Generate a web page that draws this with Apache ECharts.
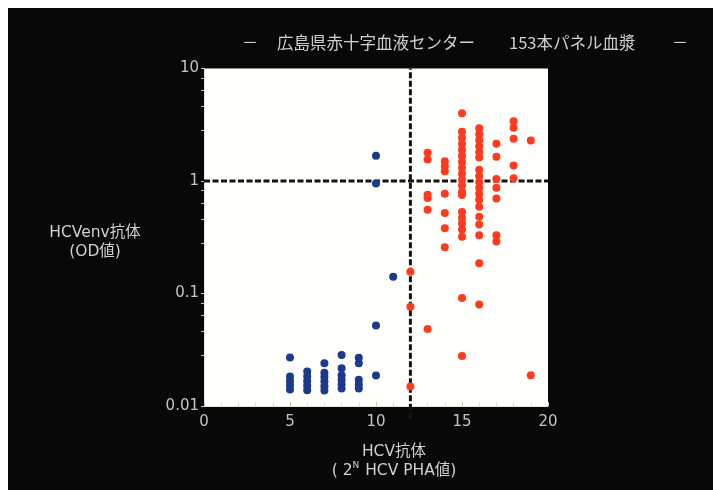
<!DOCTYPE html>
<html>
<head>
<meta charset="utf-8">
<script src="https://cdn.jsdelivr.net/npm/echarts@6/dist/echarts.min.js"></script>
<style>
  html, body { margin: 0; padding: 0; background: #ffffff; }
  #chart { position: absolute; left: 8px; top: 8px; width: 705px; height: 482px; }
</style>
</head>
<body>
<div id="chart"></div>
<script>
// HCV PHA titre (2^N) vs HCVenv antibody OD, 153 panel plasma samples
const titleText = '広島県赤十字血液センター';
const titleSub = '153本パネル血漿';
const yAxisTitle = 'HCVenv抗体\n(OD値)';

// PHA-negative group: [PHA titre, OD]
const bluePoints = [
  [5, 0.0270], [5, 0.0183], [5, 0.0167], [5, 0.0153], [5, 0.0140],
  [6, 0.0203], [6, 0.0184], [6, 0.0167], [6, 0.0152], [6, 0.0138],
  [7, 0.0240], [7, 0.0198], [7, 0.0181], [7, 0.0165], [7, 0.0150], [7, 0.0137],
  [8, 0.0284], [8, 0.0216], [8, 0.0188], [8, 0.0171], [8, 0.0156], [8, 0.0143],
  [9, 0.0268], [9, 0.0240], [9, 0.0171], [9, 0.0156], [9, 0.0143],
  [10, 0.0187], [10, 0.052], [10, 0.95], [10, 1.68],
  [11, 0.141]
];

// PHA-positive group: [PHA titre, OD]
const redPoints = [
  [12, 0.156], [12, 0.0764], [12, 0.0149],
  [13, 1.78], [13, 1.55], [13, 0.755], [13, 0.706], [13, 0.555], [13, 0.0484],
  [14, 1.50], [14, 1.35], [14, 1.22], [14, 0.77], [14, 0.519], [14, 0.381], [14, 0.258],
  [15, 4.0], [15, 2.74], [15, 2.42], [15, 2.14], [15, 1.89], [15, 1.67], [15, 1.48],
  [15, 1.31], [15, 1.16], [15, 1.02], [15, 0.91], [15, 0.80], [15, 0.75],
  [15, 0.53], [15, 0.47], [15, 0.42], [15, 0.37], [15, 0.32], [15, 0.091], [15, 0.0278],
  [16, 2.94], [16, 2.60], [16, 2.30], [16, 2.04], [16, 1.80], [16, 1.62],
  [16, 1.26], [16, 1.11], [16, 0.98], [16, 0.87], [16, 0.77], [16, 0.68], [16, 0.59],
  [16, 0.48], [16, 0.41], [16, 0.33], [16, 0.186], [16, 0.080],
  [17, 2.14], [17, 1.64], [17, 1.04], [17, 0.87], [17, 0.70], [17, 0.33], [17, 0.29],
  [18, 3.39], [18, 2.97], [18, 2.37], [18, 1.37], [18, 1.06],
  [19, 2.29], [19, 0.0188]
];

// Cut-off lines
const cutoffPHA = 12;
const cutoffOD = 1;
const xRange = [0, 20];
const yRange = [0.01, 10];
const xTicks = ['0', '5', '10', '15', '20'];
const yTicks = ['0.01', '0.1', '1', '10'];

const font = '"DejaVu Sans", "Noto Sans CJK JP", sans-serif';
const cjkFont = '"Noto Sans CJK JP", sans-serif';
const textGray = '#d0d0d0';
const dash = [6, 2.5];

const chart = echarts.init(document.getElementById('chart'), null, { renderer: 'canvas' });

chart.setOption({
  backgroundColor: '#080808',
  animation: false,
  textStyle: { fontFamily: font },
  title: {
    left: 229,
    top: 21,
    text: '{d|－}{m|' + titleText + '}{n|' + titleSub + '}{d|－}',
    textStyle: {
      fontWeight: 'normal',
      rich: {
        d: { width: 35, fontSize: 16, color: textGray, fontFamily: cjkFont, fontWeight: 'normal' },
        m: { width: 232, fontSize: 16.5, color: textGray, fontFamily: cjkFont, fontWeight: 'normal' },
        n: { width: 163, fontSize: 16.5, color: textGray, fontFamily: cjkFont, fontWeight: 'normal' }
      }
    }
  },
  // vertical-axis title, set horizontally to the left of the plot
  graphic: [
    {
      type: 'text',
      x: 87,
      y: 215,
      silent: true,
      style: {
        text: yAxisTitle,
        fill: textGray,
        fontSize: 15.5,
        fontFamily: font,
        lineHeight: 19,
        align: 'center',
        verticalAlign: 'top'
      }
    }
  ],
  grid: {
    left: 196,
    top: 60.5,
    width: 344,
    height: 337.5,
    show: true,
    backgroundColor: '#fffffb',
    borderWidth: 0
  },
  xAxis: {
    type: 'value',
    min: xRange[0],
    max: xRange[1],
    interval: 5,
    name: 'HCV抗体\n( 2{sup|N} HCV PHA値)',
    nameLocation: 'middle',
    nameGap: 55,
    nameTextStyle: {
      color: textGray,
      fontSize: 15.5,
      lineHeight: 19,
      align: 'center',
      verticalAlign: 'middle',
      padding: [0, 0, 0, 36],
      rich: {
        sup: { fontSize: 9, color: textGray, verticalAlign: 'top', padding: [0, 1, 6, 0] }
      }
    },
    axisLine: { show: true, lineStyle: { color: '#e8e8e0', width: 1 } },
    axisTick: { show: true, inside: true, length: 4, lineStyle: { color: '#c8c8b8' } },
    minorTick: { show: true, splitNumber: 5, length: 3, lineStyle: { color: '#d8d8c8' } },
    splitLine: { show: false },
    axisLabel: {
      color: '#c4c4c4',
      fontSize: 15,
      margin: 9,
      formatter: (v) => xTicks[xTicks.indexOf(String(v))] || ''
    }
  },
  yAxis: {
    type: 'log',
    logBase: 10,
    min: yRange[0],
    max: yRange[1],
    axisLine: { show: true, lineStyle: { color: '#e8e8e0', width: 1 } },
    axisTick: { show: true, inside: false, length: 3, lineStyle: { color: '#c8c8c8' } },
    minorTick: { show: true, splitNumber: 5, length: 3, lineStyle: { color: '#bbbbaa' } },
    splitLine: { show: false },
    axisLabel: {
      color: '#c4c4c4',
      fontSize: 15,
      margin: 5,
      formatter: (v) => {
        const s = String(Number(v.toPrecision(3)));
        return yTicks.indexOf(s) >= 0 ? s : '';
      }
    }
  },
  series: [
    {
      name: 'cutoff-pha',
      type: 'line',
      data: [[cutoffPHA, 0.0078], [cutoffPHA, yRange[1]]],
      symbol: 'none',
      clip: false,
      lineStyle: { color: '#141414', width: 3, type: dash },
      z: 3
    },
    {
      name: 'cutoff-od',
      type: 'line',
      data: [[xRange[0], cutoffOD], [xRange[1], cutoffOD]],
      symbol: 'none',
      clip: false,
      lineStyle: { color: '#141414', width: 3, type: dash },
      z: 3
    },
    {
      name: 'PHA陰性',
      type: 'scatter',
      data: bluePoints,
      symbol: 'circle',
      symbolSize: 8,
      itemStyle: { color: '#1c3a8c', opacity: 1 },
      z: 4
    },
    {
      name: 'PHA陽性',
      type: 'scatter',
      data: redPoints,
      symbol: 'circle',
      symbolSize: 8,
      itemStyle: { color: '#ff3a1e', opacity: 1 },
      z: 4
    }
  ]
});
</script>
</body>
</html>
